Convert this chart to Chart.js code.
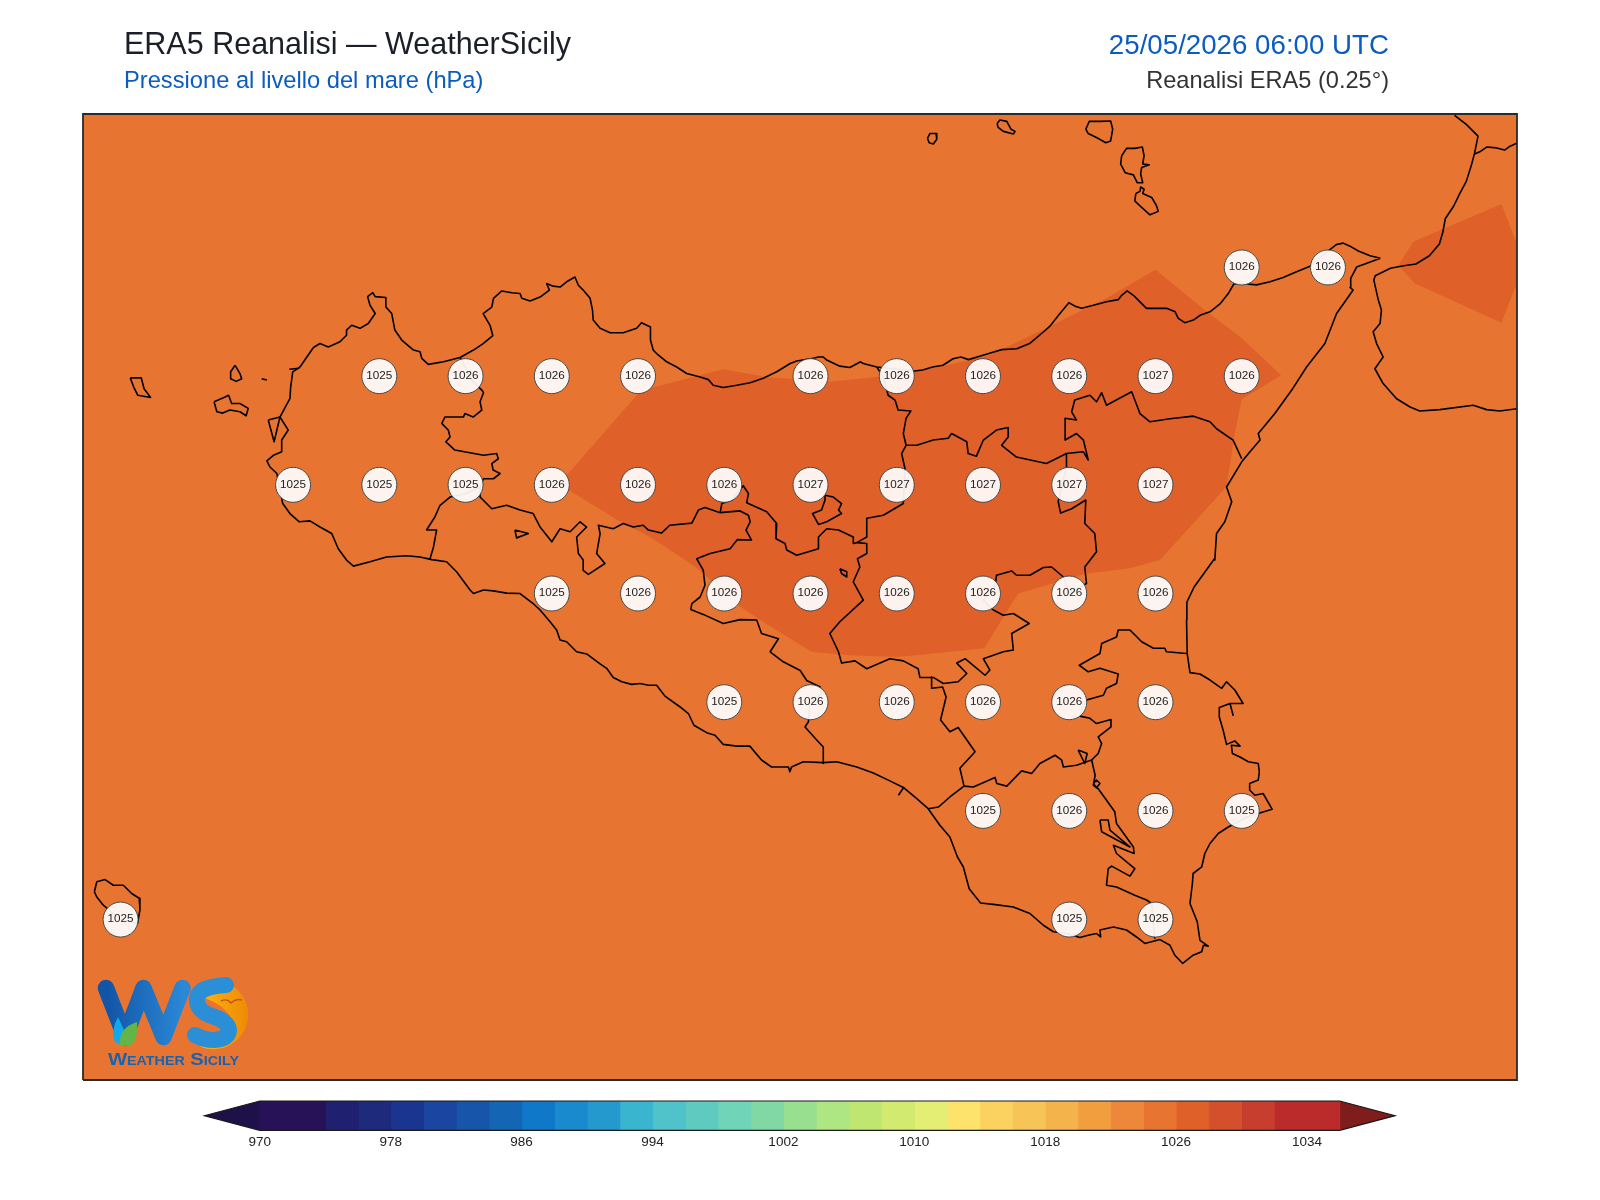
<!DOCTYPE html>
<html lang="it">
<head>
<meta charset="utf-8">
<title>ERA5 Reanalisi - WeatherSicily</title>
<script src="https://cdn.jsdelivr.net/npm/chart.js@4/dist/chart.umd.min.js"></script>
<style>
  html, body { margin: 0; padding: 0; background: #fff; }
  #page { position: relative; width: 1600px; height: 1200px; overflow: hidden; font-family: "Liberation Sans", Arial, sans-serif; }
  canvas { position: absolute; left: 0; display: block; }
  .head { position: absolute; white-space: nowrap; line-height: 1; transform: translateY(-50%); }
  #logo { position: absolute; left: 0; top: 0; pointer-events: none; }
</style>
</head>
<body>
<div id="page">
  <canvas id="mapChart" width="1600" height="1090" style="top:0"></canvas>
  <canvas id="barChart" width="1600" height="70" style="top:1090px"></canvas>
  <div class="head" style="left:124px;top:43px;font-size:30.5px;color:#1b1f2a">ERA5 Reanalisi — WeatherSicily</div>
  <div class="head" style="left:124px;top:81px;font-size:23.7px;color:#0b5cc0">Pressione al livello del mare (hPa)</div>
  <div class="head" style="right:211px;top:45px;font-size:27.7px;color:#0b5cc0">25/05/2026 06:00 UTC</div>
  <div class="head" style="right:211px;top:81px;font-size:23.6px;color:#333">Reanalisi ERA5 (0.25°)</div>
  <svg id="logo" width="1600" height="1200" viewBox="0 0 1600 1200">
    <defs>
      <linearGradient id="wGrad" x1="0" y1="0" x2="1" y2="0">
        <stop offset="0" stop-color="#1254a6"/><stop offset="1" stop-color="#2a88d6"/>
      </linearGradient>
      <linearGradient id="sunGrad" x1="0" y1="0" x2="1" y2="0">
        <stop offset="0" stop-color="#fdb60f"/><stop offset="1" stop-color="#ee8a06"/>
      </linearGradient>
    </defs>
    <path d="M231 985 A34.5 34.5 0 0 1 200 1046.5 L217 1042 Q236 1033 233 1021 Q226 1006 205 998 Z" fill="url(#sunGrad)"/>
    <path d="M106 988 L125 1037 L143.5 988 L163.5 1037 L182.5 988" fill="none" stroke="url(#wGrad)" stroke-width="16.5" stroke-linejoin="round" stroke-linecap="round"/>
    <path d="M118 1017 Q110 1032 115 1042 L122 1045 L124 1030 Z" fill="#12a8ee"/>
    <path d="M120 1045 Q118 1028 137 1022 Q138 1040 131 1045 Z" fill="#62b648"/>
    <path d="M226 985 Q214 986 208 988 Q196 991 197 1002 Q199 1012 212 1016 Q228 1021 229 1030 Q228 1039 214 1040 Q204 1040 195 1035" fill="none" stroke="#2a8fd6" stroke-width="16" stroke-linecap="round"/>
    <path d="M221 1001 Q227 998 231 1003 Q236 998 242 1000" fill="none" stroke="#c8501a" stroke-width="1.4"/>
    <text x="108" y="1065" textLength="131" lengthAdjust="spacingAndGlyphs" font-family="Liberation Sans" font-weight="700" font-size="17" style="font-variant:small-caps" fill="#1b62ad">Weather Sicily</text>
  </svg>
</div>
<script>
// axis extent (degrees)
const lonMin = 11.891, lonMax = 16.048;
const latMin = 36.381, latMax = 38.603;

// ERA5 grid values
const gridLons = [15.25,15.5,
  12.75,13,13.25,13.5,14,14.25,14.5,14.75,15,15.25,
  12.5,12.75,13,13.25,13.5,13.75,14,14.25,14.5,14.75,15,
  13.25,13.5,13.75,14,14.25,14.5,14.75,15,
  13.75,14,14.25,14.5,14.75,15,
  14.5,14.75,15,15.25,
  12,14.75,15];
const gridLats = [38.25,38.25,
  38,38,38,38,38,38,38,38,38,38,
  37.75,37.75,37.75,37.75,37.75,37.75,37.75,37.75,37.75,37.75,37.75,
  37.5,37.5,37.5,37.5,37.5,37.5,37.5,37.5,
  37.25,37.25,37.25,37.25,37.25,37.25,
  37,37,37,37,
  36.75,36.75,36.75];
const gridValues = [1026,1026,
  1025,1026,1026,1026,1026,1026,1026,1026,1027,1026,
  1025,1025,1025,1026,1026,1026,1027,1027,1027,1027,1027,
  1025,1026,1026,1026,1026,1026,1026,1026,
  1025,1026,1026,1026,1026,1026,
  1025,1026,1026,1025,
  1025,1025,1025];

// 1026-1028 hPa contour areas
const contourMain = [[13.271,37.752],[13.496,37.956],[13.535,37.972],[13.747,38.016],[13.873,37.998],[14.057,37.987],[14.192,37.998],[14.308,38.010],[14.462,38.037],[14.520,38.048],[14.612,38.083],[14.694,38.115],[14.858,38.179],[15.000,38.245],[15.143,38.152],[15.250,38.087],[15.364,38.002],[15.250,37.947],[15.230,37.868],[15.206,37.746],[15.013,37.577],[14.926,37.558],[14.800,37.546],[14.602,37.500],[14.559,37.446],[14.504,37.374],[14.356,37.362],[14.250,37.354],[14.114,37.358],[14.003,37.366],[13.854,37.439],[13.796,37.470],[13.665,37.562],[13.535,37.630],[13.448,37.665],[13.271,37.752]];
const contourCalabria = [[15.747,38.309],[16.003,38.396],[16.047,38.305],[16.060,38.300],[16.060,38.195],[16.042,38.202],[16.003,38.123],[15.752,38.213],[15.704,38.255],[15.747,38.309]];

// coastlines
const coastSicily = [[15.652,38.271],[15.622,38.277],[15.588,38.288],[15.564,38.299],[15.544,38.306],[15.525,38.303],[15.501,38.288],[15.448,38.253],[15.409,38.240],[15.370,38.227],[15.332,38.217],[15.293,38.210],[15.250,38.213],[15.227,38.212],[15.211,38.190],[15.187,38.166],[15.158,38.148],[15.129,38.140],[15.110,38.129],[15.085,38.123],[15.066,38.133],[15.057,38.148],[15.032,38.156],[15.003,38.156],[14.974,38.156],[14.950,38.175],[14.936,38.186],[14.918,38.196],[14.902,38.186],[14.892,38.176],[14.858,38.171],[14.820,38.163],[14.786,38.156],[14.767,38.161],[14.749,38.169],[14.723,38.144],[14.694,38.115],[14.680,38.105],[14.635,38.075],[14.598,38.063],[14.554,38.061],[14.517,38.052],[14.458,38.038],[14.436,38.044],[14.413,38.040],[14.384,38.025],[14.354,38.021],[14.325,38.014],[14.302,38.012],[14.192,38.021],[14.153,38.029],[14.145,38.033],[14.114,38.020],[14.085,38.023],[14.047,38.037],[14.037,38.044],[14.023,38.044],[14.008,38.041],[13.960,38.035],[13.941,38.029],[13.902,38.010],[13.863,37.995],[13.825,37.985],[13.786,37.979],[13.747,37.974],[13.718,37.979],[13.704,37.992],[13.680,37.998],[13.641,38.006],[13.612,38.021],[13.583,38.033],[13.554,38.052],[13.544,38.060],[13.536,38.083],[13.536,38.113],[13.510,38.123],[13.496,38.110],[13.457,38.100],[13.419,38.100],[13.390,38.110],[13.370,38.129],[13.368,38.152],[13.361,38.179],[13.341,38.198],[13.327,38.209],[13.317,38.228],[13.293,38.217],[13.274,38.205],[13.254,38.207],[13.235,38.213],[13.243,38.198],[13.216,38.182],[13.187,38.173],[13.163,38.179],[13.158,38.190],[13.134,38.192],[13.105,38.196],[13.081,38.179],[13.076,38.159],[13.051,38.144],[13.071,38.117],[13.079,38.093],[13.051,38.075],[13.023,38.060],[12.984,38.043],[12.936,38.033],[12.892,38.027],[12.873,38.041],[12.868,38.056],[12.849,38.060],[12.815,38.083],[12.795,38.106],[12.786,38.144],[12.769,38.159],[12.769,38.181],[12.738,38.183],[12.731,38.192],[12.716,38.183],[12.723,38.163],[12.738,38.144],[12.718,38.121],[12.694,38.110],[12.670,38.117],[12.655,38.106],[12.655,38.094],[12.636,38.079],[12.602,38.067],[12.578,38.075],[12.559,38.066],[12.540,38.044],[12.520,38.021],[12.499,38.010],[12.493,37.975],[12.491,37.949],[12.462,37.906],[12.486,37.876],[12.467,37.853],[12.467,37.826],[12.443,37.818],[12.424,37.805],[12.433,37.791],[12.453,37.776],[12.470,37.707],[12.491,37.684],[12.518,37.665],[12.549,37.667],[12.578,37.653],[12.612,37.638],[12.631,37.603],[12.655,37.577],[12.675,37.563],[12.723,37.573],[12.771,37.584],[12.829,37.587],[12.868,37.584],[12.902,37.578],[12.945,37.573],[12.974,37.550],[13.013,37.508],[13.023,37.500],[13.052,37.508],[13.081,37.506],[13.119,37.501],[13.158,37.500],[13.196,37.477],[13.216,37.462],[13.245,37.435],[13.264,37.416],[13.274,37.393],[13.293,37.389],[13.322,37.366],[13.351,37.361],[13.390,37.338],[13.409,37.328],[13.428,37.307],[13.453,37.297],[13.481,37.291],[13.506,37.293],[13.530,37.289],[13.554,37.289],[13.578,37.264],[13.622,37.239],[13.646,37.224],[13.662,37.197],[13.699,37.180],[13.723,37.174],[13.747,37.153],[13.786,37.149],[13.824,37.149],[13.858,37.117],[13.887,37.101],[13.936,37.101],[13.940,37.090],[13.945,37.101],[13.979,37.113],[14.037,37.111],[14.076,37.113],[14.134,37.101],[14.182,37.087],[14.230,37.069],[14.269,37.054],[14.308,37.028],[14.341,37.005],[14.375,36.967],[14.404,36.940],[14.426,36.894],[14.443,36.871],[14.460,36.821],[14.493,36.788],[14.530,36.785],[14.588,36.779],[14.636,36.764],[14.675,36.737],[14.704,36.722],[14.742,36.718],[14.781,36.709],[14.805,36.714],[14.829,36.718],[14.841,36.710],[14.839,36.726],[14.878,36.733],[14.916,36.726],[14.945,36.710],[14.969,36.695],[15.013,36.704],[15.042,36.691],[15.056,36.668],[15.079,36.649],[15.109,36.668],[15.134,36.676],[15.139,36.691],[15.153,36.689],[15.129,36.702],[15.121,36.745],[15.100,36.787],[15.107,36.833],[15.109,36.856],[15.134,36.871],[15.143,36.902],[15.158,36.925],[15.182,36.948],[15.211,36.963],[15.250,36.979],[15.264,36.986],[15.338,37.004],[15.312,37.040],[15.288,37.036],[15.273,37.048],[15.273,37.063],[15.298,37.071],[15.301,37.090],[15.298,37.109],[15.269,37.113],[15.245,37.124],[15.223,37.132],[15.220,37.151],[15.245,37.149],[15.230,37.161],[15.206,37.153],[15.196,37.186],[15.185,37.216],[15.185,37.238],[15.216,37.247],[15.225,37.220],[15.216,37.247],[15.254,37.247],[15.230,37.278],[15.206,37.297],[15.192,37.282],[15.158,37.301],[15.129,37.315],[15.100,37.318],[15.092,37.362],[15.090,37.439],[15.091,37.480],[15.112,37.515],[15.170,37.579],[15.172,37.577],[15.177,37.638],[15.201,37.665],[15.221,37.711],[15.206,37.745],[15.250,37.803],[15.274,37.826],[15.303,37.853],[15.298,37.868],[15.346,37.914],[15.395,37.968],[15.438,38.021],[15.491,38.075],[15.525,38.144],[15.573,38.198],[15.564,38.204],[15.566,38.225],[15.583,38.251],[15.652,38.271]];
const coastCalabria = [[15.867,38.600],[15.901,38.579],[15.935,38.552],[15.925,38.513],[15.916,38.486],[15.901,38.448],[15.882,38.420],[15.865,38.392],[15.840,38.362],[15.833,38.331],[15.823,38.304],[15.794,38.277],[15.755,38.258],[15.720,38.254],[15.681,38.248],[15.637,38.231],[15.633,38.221],[15.646,38.175],[15.655,38.152],[15.651,38.121],[15.631,38.102],[15.641,38.075],[15.660,38.044],[15.636,38.017],[15.660,37.983],[15.699,37.948],[15.738,37.929],[15.766,37.920],[15.824,37.923],[15.921,37.933],[15.960,37.923],[15.998,37.920],[16.048,37.925]];
const calabriaInland = [[15.925,38.511],[15.940,38.516],[15.960,38.527],[15.989,38.525],[16.012,38.520],[16.028,38.529],[16.051,38.537],[16.052,38.548]];

// islands
const alicudi = [[14.339,38.547],[14.346,38.558],[14.364,38.558],[14.366,38.545],[14.356,38.534],[14.344,38.537],[14.339,38.547]];
const filicudi = [[14.541,38.581],[14.549,38.589],[14.569,38.586],[14.581,38.568],[14.593,38.563],[14.588,38.557],[14.559,38.563],[14.544,38.572],[14.541,38.581]];
const salina = [[14.798,38.568],[14.808,38.586],[14.839,38.586],[14.870,38.587],[14.876,38.568],[14.870,38.541],[14.856,38.537],[14.829,38.549],[14.805,38.558],[14.798,38.568]];
const lipari = [[14.902,38.507],[14.916,38.524],[14.940,38.524],[14.962,38.527],[14.967,38.507],[14.963,38.488],[14.982,38.486],[14.960,38.480],[14.957,38.465],[14.963,38.445],[14.947,38.445],[14.936,38.463],[14.912,38.468],[14.899,38.488],[14.902,38.507]];
const vulcano = [[14.943,38.420],[14.955,38.425],[14.957,38.435],[14.967,38.430],[14.963,38.420],[14.989,38.411],[15.003,38.392],[15.008,38.379],[14.984,38.371],[14.960,38.388],[14.940,38.403],[14.943,38.420]];
const levanzo = [[12.332,38.025],[12.346,38.006],[12.351,37.994],[12.335,37.988],[12.319,37.994],[12.319,38.010],[12.332,38.025]];
const favignana = [[12.271,37.941],[12.303,37.952],[12.313,37.956],[12.322,37.937],[12.346,37.937],[12.370,37.926],[12.364,37.909],[12.346,37.918],[12.317,37.922],[12.296,37.915],[12.279,37.918],[12.271,37.941]];
const formica = [[12.409,37.994],[12.424,37.991]];
const marettimo = [[12.028,37.996],[12.060,37.996],[12.068,37.971],[12.087,37.951],[12.050,37.956],[12.038,37.975],[12.028,37.996]];
const pantelleria = [[11.924,36.814],[11.931,36.837],[11.955,36.842],[11.979,36.829],[12.008,36.829],[12.032,36.810],[12.054,36.799],[12.056,36.772],[12.049,36.741],[12.000,36.750],[11.950,36.783],[11.931,36.802],[11.924,36.814]];
const stagnone = [[12.428,37.899],[12.462,37.906],[12.445,37.849],[12.428,37.899]];
const trapaniSalt = [[12.489,38.016],[12.518,38.018]];

// province borders
const borderTpPa = [[12.984,38.043],[13.018,37.991],[13.047,37.968],[13.052,37.962],[13.042,37.941],[13.047,37.922],[13.022,37.906],[12.998,37.914],[12.994,37.906],[12.940,37.906],[12.931,37.891],[12.950,37.876],[12.955,37.860],[12.943,37.849],[12.969,37.830],[13.052,37.818],[13.090,37.822],[13.095,37.810],[13.076,37.799],[13.080,37.784],[13.100,37.776],[13.081,37.764],[13.052,37.764],[13.042,37.745],[13.003,37.730],[12.955,37.722],[12.926,37.703],[12.911,37.676],[12.887,37.646],[12.916,37.646],[12.907,37.607],[12.897,37.580]];
const borderPaAg = [[13.042,37.745],[13.042,37.722],[13.076,37.695],[13.119,37.703],[13.158,37.692],[13.196,37.684],[13.216,37.653],[13.250,37.619],[13.274,37.649],[13.303,37.642],[13.332,37.665],[13.351,37.653],[13.322,37.630],[13.327,37.592],[13.341,37.577],[13.341,37.553],[13.356,37.544],[13.404,37.569],[13.380,37.592],[13.390,37.638],[13.385,37.657],[13.428,37.649],[13.457,37.661],[13.486,37.653],[13.515,37.657],[13.530,37.646],[13.568,37.639],[13.592,37.657],[13.656,37.662],[13.675,37.692],[13.694,37.698],[13.738,37.686],[13.796,37.690],[13.820,37.680],[13.825,37.665],[13.813,37.646],[13.829,37.623],[13.788,37.624],[13.767,37.603],[13.709,37.592],[13.670,37.580],[13.689,37.554],[13.694,37.519],[13.680,37.492],[13.656,37.477],[13.653,37.463],[13.689,37.452],[13.747,37.431],[13.796,37.440],[13.844,37.439],[13.858,37.408],[13.907,37.396],[13.883,37.366],[13.921,37.343],[13.970,37.323],[13.989,37.300],[14.028,37.285],[14.032,37.270],[13.998,37.247],[13.994,37.205],[13.984,37.193],[14.018,37.163],[14.037,37.147],[14.037,37.109]];
const borderPaCl = [[13.738,37.686],[13.743,37.707],[13.772,37.715],[13.805,37.748],[13.820,37.730],[13.815,37.709],[13.873,37.688],[13.902,37.661],[13.900,37.626],[13.926,37.615],[13.931,37.600],[13.960,37.588],[14.023,37.603],[14.023,37.630],[14.047,37.649],[14.081,37.646],[14.124,37.630],[14.124,37.615],[14.134,37.617]];
const borderPaEn = [[14.134,37.617],[14.163,37.630],[14.163,37.673],[14.211,37.680],[14.269,37.707],[14.274,37.787],[14.264,37.822],[14.277,37.841],[14.269,37.868],[14.277,37.903],[14.291,37.920],[14.254,37.922],[14.245,37.945],[14.225,37.956],[14.211,37.998],[14.192,38.021]];
const borderMeEn = [[14.277,37.841],[14.308,37.841],[14.356,37.853],[14.399,37.857],[14.409,37.868],[14.453,37.849],[14.457,37.822],[14.481,37.816],[14.501,37.853],[14.539,37.876],[14.573,37.882],[14.573,37.860],[14.554,37.841],[14.597,37.814],[14.684,37.799],[14.742,37.822],[14.791,37.826],[14.805,37.807],[14.791,37.853],[14.771,37.868],[14.738,37.853],[14.738,37.903],[14.771,37.899],[14.757,37.918],[14.766,37.945],[14.810,37.956],[14.829,37.941],[14.844,37.962],[14.858,37.933],[14.931,37.964],[14.955,37.914],[14.984,37.895],[15.042,37.902],[15.110,37.908],[15.158,37.895],[15.177,37.879],[15.225,37.853],[15.250,37.810]];
const borderEnCt = [[14.742,37.822],[14.742,37.791],[14.718,37.711],[14.725,37.685],[14.757,37.695],[14.798,37.715],[14.795,37.661],[14.824,37.638],[14.829,37.596],[14.795,37.561],[14.800,37.523],[14.750,37.500],[14.733,37.538],[14.699,37.561],[14.675,37.560],[14.636,37.542],[14.597,37.542],[14.583,37.552],[14.539,37.542],[14.535,37.515],[14.501,37.485],[14.530,37.462],[14.559,37.450],[14.588,37.454],[14.634,37.431],[14.583,37.408],[14.588,37.370],[14.559,37.366],[14.501,37.350],[14.520,37.324],[14.506,37.312],[14.448,37.350],[14.424,37.340],[14.453,37.316],[14.428,37.297],[14.385,37.293],[14.356,37.307],[14.317,37.307],[14.312,37.327],[14.269,37.345],[14.230,37.350],[14.163,37.327],[14.129,37.345],[14.090,37.340],[14.081,37.366],[14.056,37.408],[14.085,37.435],[14.153,37.485],[14.124,37.527],[14.143,37.561],[14.136,37.580],[14.163,37.592],[14.163,37.615],[14.134,37.617]];
const borderClCt = [[14.351,37.308],[14.351,37.282],[14.383,37.285],[14.393,37.262],[14.377,37.209],[14.404,37.182],[14.428,37.192],[14.477,37.136],[14.433,37.098],[14.445,37.057],[14.404,37.032],[14.371,37.009],[14.341,37.005]];
const borderCtRg = [[14.445,37.057],[14.472,37.055],[14.535,37.077],[14.540,37.063],[14.569,37.057],[14.612,37.092],[14.641,37.086],[14.665,37.109],[14.709,37.128],[14.728,37.117],[14.733,37.101],[14.771,37.105],[14.815,37.117],[14.834,37.132],[14.844,37.155],[14.834,37.170],[14.871,37.193],[14.871,37.210],[14.829,37.201],[14.810,37.213],[14.781,37.218],[14.791,37.243],[14.800,37.255],[14.849,37.266],[14.858,37.282],[14.887,37.293],[14.892,37.315],[14.839,37.328],[14.805,37.320],[14.779,37.335],[14.839,37.362],[14.844,37.385],[14.887,37.400],[14.892,37.416],[14.926,37.416],[14.960,37.389],[14.994,37.374],[15.027,37.374],[15.032,37.366],[15.090,37.362]];
const borderRgSr = [[14.815,37.117],[14.825,37.082],[14.820,37.059],[14.834,37.051],[14.844,37.040],[14.882,36.998],[14.887,36.971],[14.936,36.917],[14.938,36.902],[14.878,36.921],[14.887,36.902],[14.940,36.867],[14.926,36.850],[14.873,36.873],[14.863,36.867],[14.858,36.829],[14.887,36.825],[14.940,36.806],[14.974,36.795],[14.989,36.787],[14.998,36.706]];
const pocketSr = [[14.839,36.979],[14.863,36.979],[14.868,36.956],[14.926,36.917],[14.844,36.952],[14.839,36.979]];
const lakeBiviere = [[14.776,37.140],[14.802,37.132],[14.795,37.109],[14.776,37.140]];
const ringRg = [[14.820,37.063],[14.829,37.071],[14.839,37.063],[14.829,37.053],[14.820,37.063]];
const tickGela = [[14.255,37.036],[14.271,37.055]];
const lakeEnna = [[14.042,37.726],[14.066,37.722],[14.090,37.707],[14.081,37.692],[14.090,37.684],[14.047,37.665],[14.023,37.659],[14.006,37.684],[14.032,37.692],[14.042,37.715],[14.042,37.726]];
const lakePergusa = [[14.085,37.557],[14.105,37.550],[14.105,37.538],[14.090,37.546],[14.085,37.557]];
const lakeArancio = [[13.143,37.646],[13.182,37.638],[13.148,37.628],[13.143,37.646]];

const mapLines = [coastSicily, coastCalabria, calabriaInland, alicudi, filicudi, salina, lipari, vulcano,
  levanzo, favignana, formica, marettimo, pantelleria, stagnone, trapaniSalt,
  borderTpPa, borderPaAg, borderPaCl, borderPaEn, borderMeEn, borderEnCt, borderClCt, borderCtRg, borderRgSr,
  pocketSr, lakeBiviere, ringRg, tickGela, lakeEnna, lakePergusa, lakeArancio];

// colour bar
const bandEdges = [970,974,976,978,980,982,984,986,988,990,992,994,996,998,1000,1002,1004,1006,1008,1010,1012,1014,1016,1018,1020,1022,1024,1026,1028,1030,1032,1036];
const bandColors = ['#271258','#1f2070','#1e2a7c','#1a3590','#1a45a0','#1655aa','#1565b5','#0f78c8','#1a8ace','#2499ce','#3ab5d0','#4fc3c9','#5fcbc0','#70d4b8','#82d8a5','#99df90','#aee684','#c0e672','#d2ea70','#e4ee74','#fde36c','#fbd260','#f7c458','#f5b34b','#f19e3f','#ed883a','#e87431','#e06029','#d4502c','#c83e2e','#bb2b2b'];
const barTicks = [970,978,986,994,1002,1010,1018,1026,1034];
const underColor = '#1e1048', overColor = '#7f1d1d';
const underTip = 966.62, overTip = 1039.38;

const toPoints = (line) => line.map(p => ({x: p[0], y: p[1]}));

const polygon = (points, color, edge) => ({
  type: 'scatter', data: points, showLine: true, pointRadius: 0, pointHoverRadius: 0,
  fill: 'shape', backgroundColor: color, borderColor: edge || color, borderWidth: edge ? 1 : 0, tension: 0
});

const polyline = (line) => ({
  type: 'scatter', data: toPoints(line), showLine: true, pointRadius: 0, pointHoverRadius: 0,
  fill: false, borderColor: '#000', borderWidth: 1.6, borderJoinStyle: 'round', tension: 0
});

const framePoints = [{x:lonMin,y:latMin},{x:lonMax,y:latMin},{x:lonMax,y:latMax},{x:lonMin,y:latMax},{x:lonMin,y:latMin}];

// prints the value in the middle of each grid circle
const gridLabels = {
  id: 'gridLabels',
  afterDatasetsDraw(chart) {
    const meta = chart.getDatasetMeta(1);
    const ctx = chart.ctx;
    ctx.save();
    ctx.font = '11.7px "Liberation Sans", Arial, sans-serif';
    ctx.fillStyle = '#222';
    ctx.textAlign = 'center';
    ctx.textBaseline = 'middle';
    meta.data.forEach((pt, i) => ctx.fillText(String(gridValues[i]), pt.x, pt.y - 0.5));
    ctx.restore();
  }
};

// first dataset is drawn last, so the list goes from top layer to bottom
const mapChart = new Chart(document.getElementById('mapChart'), {
  type: 'scatter',
  data: {
    datasets: [
      { data: framePoints, showLine: true, pointRadius: 0, fill: false, borderColor: '#2a2a2a', borderWidth: 1.8, clip: false },
      { data: gridLons.map((lon, i) => ({x: lon, y: gridLats[i]})), pointRadius: 17.5, pointHoverRadius: 17.5,
        backgroundColor: 'rgba(255,255,255,0.92)', borderColor: '#4a4a4a', borderWidth: 1, clip: false },
      ...mapLines.map(polyline),
      polygon(toPoints(contourCalabria), '#e06029'),
      polygon(toPoints(contourMain), '#e06029'),
      polygon(framePoints, '#e87431')
    ]
  },
  options: {
    responsive: false,
    animation: false,
    devicePixelRatio: 1,
    // autoPadding would reserve room for the circles at the bottom edge
    layout: { autoPadding: false, padding: { left: 83, right: 83, top: 114, bottom: 10 } },
    plugins: { legend: { display: false }, tooltip: { enabled: false } },
    events: [],
    scales: {
      x: { type: 'linear', min: lonMin, max: lonMax, display: false },
      y: { type: 'linear', min: latMin, max: latMax, display: false }
    }
  },
  plugins: [gridLabels]
});

const bandDatasets = bandColors.map((color, i) => {
  const a = bandEdges[i], b = bandEdges[i + 1];
  return polygon([{x:a,y:0},{x:b,y:0},{x:b,y:1},{x:a,y:1},{x:a,y:0}], color, color);
});

const barOutline = [{x:970,y:0},{x:1036,y:0},{x:overTip,y:0.5},{x:1036,y:1},{x:970,y:1},{x:underTip,y:0.5},{x:970,y:0}];

const barChart = new Chart(document.getElementById('barChart'), {
  type: 'scatter',
  data: {
    datasets: [
      { data: barOutline, showLine: true, pointRadius: 0, fill: false, borderColor: '#1a1a1a', borderWidth: 1.2, clip: false },
      ...bandDatasets,
      polygon([{x:970,y:0},{x:underTip,y:0.5},{x:970,y:1},{x:970,y:0}], underColor),
      polygon([{x:1036,y:0},{x:overTip,y:0.5},{x:1036,y:1},{x:1036,y:0}], overColor)
    ]
  },
  options: {
    responsive: false,
    animation: false,
    devicePixelRatio: 1,
    layout: { autoPadding: false, padding: { left: 204.5, right: 205, top: 11, bottom: 0 } },
    plugins: { legend: { display: false }, tooltip: { enabled: false } },
    events: [],
    scales: {
      x: {
        type: 'linear', min: underTip, max: overTip,
        grid: { display: false, drawTicks: false }, border: { display: false },
        afterBuildTicks: (axis) => { axis.ticks = barTicks.map(v => ({value: v})); },
        afterFit: (axis) => { axis.height = 29.7; },
        ticks: { autoSkip: false, maxRotation: 0, padding: 3.5, color: '#222',
          callback: (v) => String(v),
          font: { family: '"Liberation Sans", Arial, sans-serif', size: 13.5 } }
      },
      y: { type: 'linear', min: 0, max: 1, display: false }
    }
  }
});
</script>
</body>
</html>
